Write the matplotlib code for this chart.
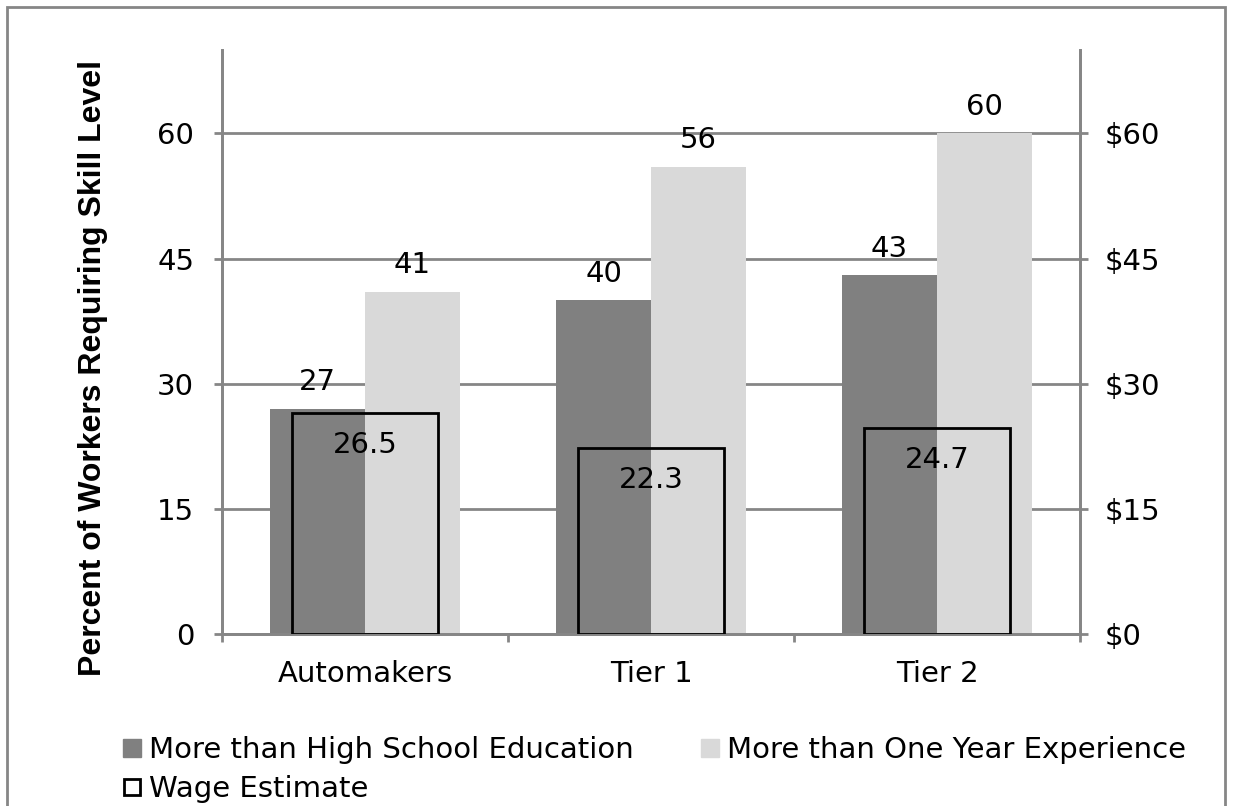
import matplotlib
matplotlib.use("Agg")
import matplotlib.pyplot as plt
from matplotlib.patches import Rectangle
from matplotlib.lines import Line2D
import numpy as np

categories = ["Automakers", "Tier 1", "Tier 2"]
high_school = [27, 40, 43]
experience = [41, 56, 60]
wage = [26.5, 22.3, 24.7]
left_ticks = [0, 15, 30, 45, 60]
right_ticks = ["$0", "$15", "$30", "$45", "$60"]

DARK = "#808080"
LIGHT = "#d9d9d9"
GRID = "#868686"

fig = plt.figure(figsize=(12.33, 8.06), dpi=100)
fig.patches.append(Rectangle((7/1233, -0.1), (1225-7)/1233, 1.1 - 7/806,
                             transform=fig.transFigure, fill=False,
                             edgecolor="#868686", linewidth=2))

ax = fig.add_axes([222/1233, 1 - 634/806, (1080-222)/1233, (634-50)/806])
ax2 = ax.twinx()

x = np.arange(len(categories))
bw = 0.332
ax.bar(x - bw/2, high_school, bw, color=DARK, zorder=2)
ax.bar(x + bw/2, experience, bw, color=LIGHT, zorder=2)

ax.set_ylim(0, 70)
ax.set_xlim(-0.5, 2.5)
ax.set_yticks(left_ticks)
ax.set_yticklabels([str(t) for t in left_ticks])
ax.grid(axis="y", color=GRID, linewidth=2, zorder=0)
ax.set_axisbelow(True)

fs = 21
for xi, v in zip(x - bw/2, high_school):
    ax.annotate(str(v), (xi, v), xytext=(0, 9), textcoords="offset points",
                ha="center", va="bottom", fontsize=fs, zorder=5)
for xi, v in zip(x + bw/2, experience):
    ax.annotate(str(v), (xi, v), xytext=(0, 9), textcoords="offset points",
                ha="center", va="bottom", fontsize=fs, zorder=5)

ww = 0.507
ax2.bar(x, wage, ww, facecolor="none", edgecolor="black", linewidth=2, zorder=3)
ax2.set_ylim(0, 70)
ax2.set_yticks(left_ticks)
ax2.set_yticklabels(right_ticks)
for xi, v in zip(x, wage):
    ax2.annotate(f"{v}", (xi, v), xytext=(0, -13), textcoords="offset points",
                 ha="center", va="top", fontsize=fs, zorder=5)

ax.set_xticks(x)
ax.set_xticklabels(categories, fontsize=fs)
ax.tick_params(axis="x", which="major", length=0, pad=19)
ax.set_xticks([-0.5, 0.5, 1.5, 2.5], minor=True)
ax.tick_params(axis="x", which="minor", length=6, width=2, color=GRID, direction="out")

for a in (ax, ax2):
    a.spines["top"].set_visible(False)
    for s in ("left", "right", "bottom"):
        a.spines[s].set_color(GRID)
        a.spines[s].set_linewidth(2)
ax.tick_params(axis="y", length=6, width=2, color=GRID, labelsize=fs, pad=14)
ax2.tick_params(axis="y", length=6, width=2, color=GRID, labelsize=fs, pad=12)

ax.set_ylabel("Percent of Workers Requiring Skill Level", family="Liberation Sans",
              fontweight="bold", fontsize=23)
ax.yaxis.set_label_coords((108 - 222) / 858, (634 - 368.5) / 584)

h_hs = Line2D([], [], marker="s", linestyle="none", markerfacecolor=DARK, markeredgecolor=DARK, markersize=13)
h_ex = Line2D([], [], marker="s", linestyle="none", markerfacecolor=LIGHT, markeredgecolor=LIGHT, markersize=13)
h_wg = Line2D([], [], marker="s", linestyle="none", markerfacecolor="white", markeredgecolor="black",
              markersize=12, markeredgewidth=2)
handles = [h_hs, h_wg, h_ex]
labels = ["More than High School Education", "Wage Estimate", "More than One Year Experience"]
leg = fig.legend(handles, labels, loc="upper left", bbox_to_anchor=(120/1233, 1 - 736/806),
                 ncol=2, frameon=False, fontsize=fs, handletextpad=0.2, handlelength=0.8,
                 columnspacing=2.2, labelspacing=0.37, borderaxespad=0, borderpad=0)

fig.savefig("out.png", dpi=100)
